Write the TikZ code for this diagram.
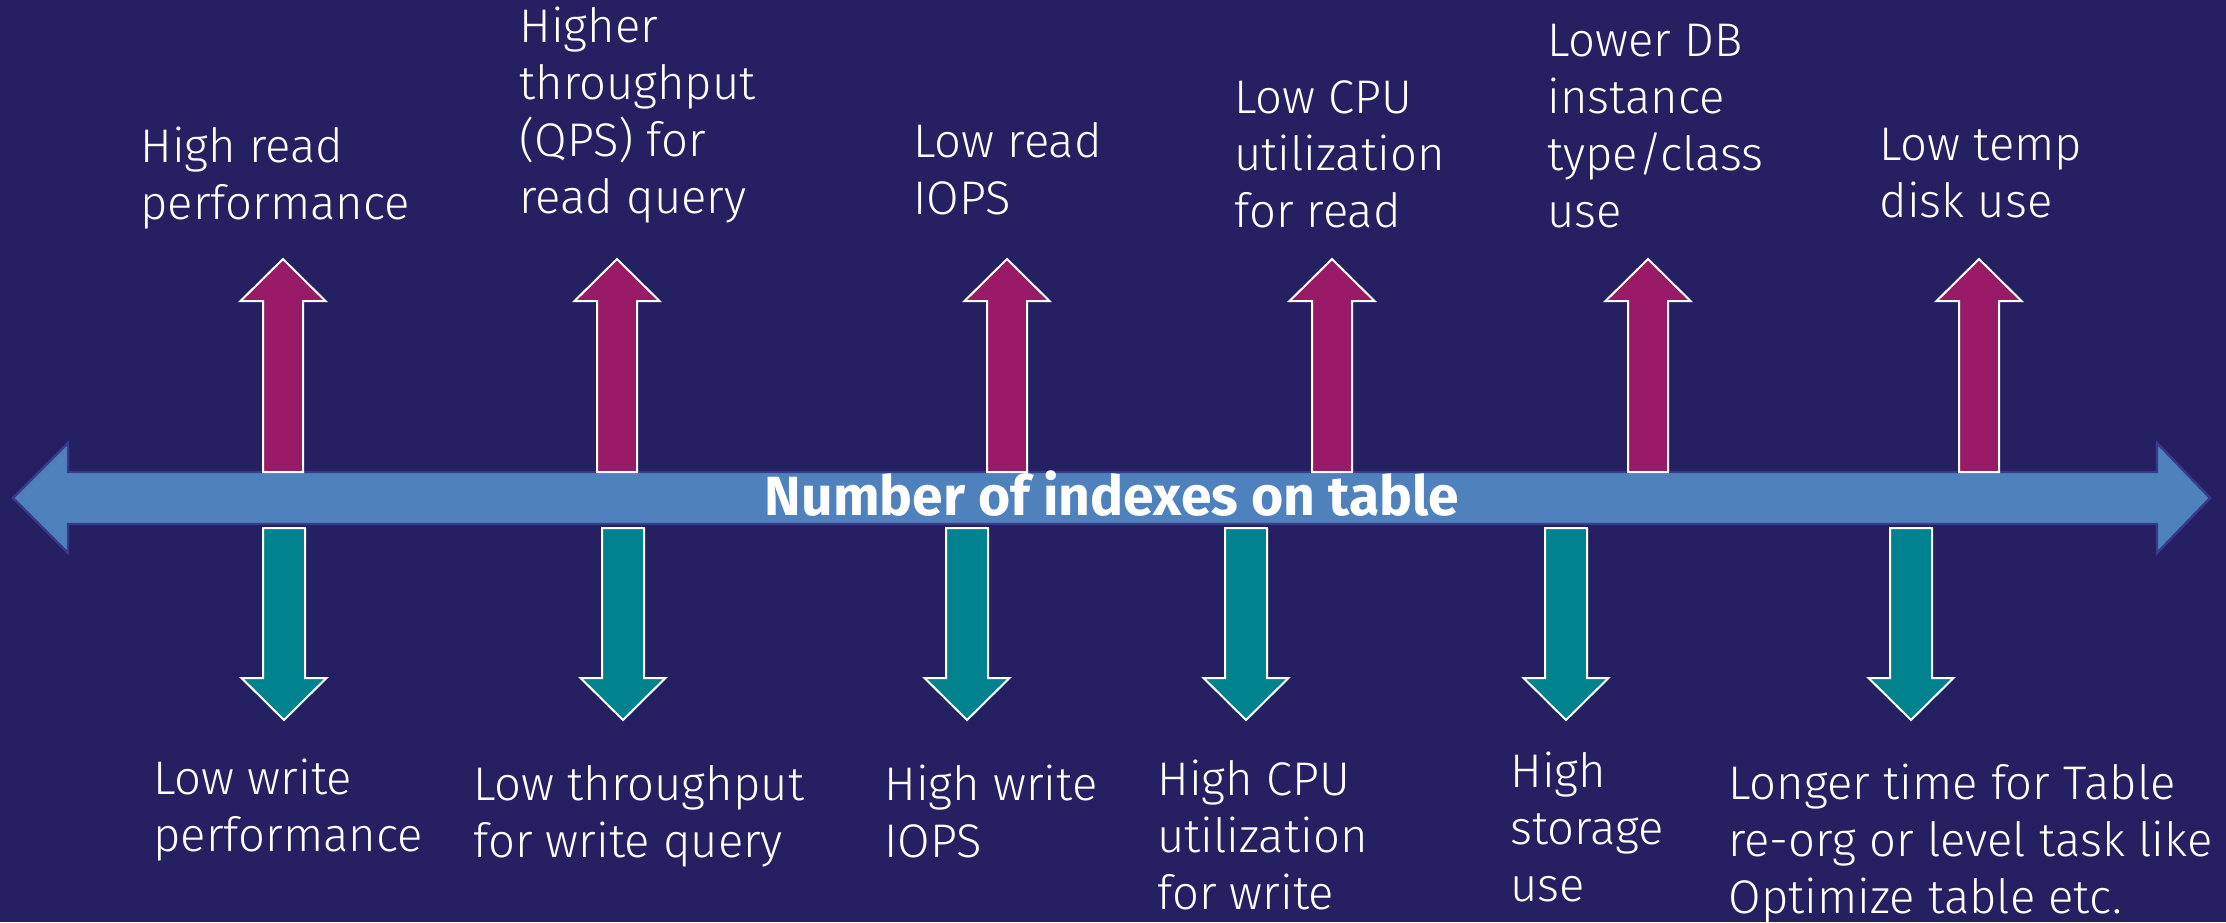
\documentclass[tikz,border=0pt]{standalone}
\usepackage{fontspec}
\IfFontExistsTF{Fira Sans Light}{\newfontfamily\lblfont{Fira Sans Light}}{\newfontfamily\lblfont{Fira Sans}}
\newfontfamily\ttlfont{Fira Sans}
\definecolor{bgc}{RGB}{37,32,97}
\definecolor{magc}{RGB}{153,27,103}
\definecolor{tealc}{RGB}{0,131,143}
\definecolor{bluec}{RGB}{79,129,189}
\definecolor{blueedge}{RGB}{58,58,140}
\tikzset{
  axisarrow/.style={fill=bluec, draw=blueedge, line width=1.2pt, line join=miter},
  uparr/.style={fill=magc, draw=white, line width=1pt, line join=miter},
  dnarr/.style={fill=tealc, draw=white, line width=1pt, line join=miter},
  lbl/.style={text=white, font=\lblfont\fontsize{23.6}{28.5}\selectfont, align=left, inner sep=0pt, anchor=base west},
  ttl/.style={text=white, font=\ttlfont\bfseries\fontsize{27.6}{32}\selectfont, inner sep=0pt, anchor=base},
  uparrow/.pic={\path[uparr] (-20,472) -- (-20,301) -- (-42.5,301) -- (0,259) -- (42.5,301) -- (20,301) -- (20,472) -- cycle;},
  dnarrow/.pic={\path[dnarr] (-21,528) -- (-21,678) -- (-42.5,678) -- (0,720) -- (42.5,678) -- (21,678) -- (21,528) -- cycle;}
}
\begin{document}
\begin{tikzpicture}[x=0.5pt,y=-0.5pt]
\fill[bgc] (0,0) rectangle (2226,922);
\useasboundingbox (0,0) rectangle (2226,922);
% main double arrow
\path[axisarrow] (13,498) -- (68,443) -- (68,472) -- (2157,472) -- (2157,443) -- (2210,498) -- (2157,553) -- (2157,524) -- (68,524) -- (68,553) -- cycle;
\node[ttl] (axis) at (1112,515) {Number of indexes on table};
% up arrows
\pic at (283,0) {uparrow};
\pic at (617,0) {uparrow};
\pic at (1007,0) {uparrow};
\pic at (1332,0) {uparrow};
\pic at (1648,0) {uparrow};
\pic at (1979,0) {uparrow};
% down arrows
\pic at (284,0) {dnarrow};
\pic at (623,0) {dnarrow};
\pic at (967,0) {dnarrow};
\pic at (1246,0) {dnarrow};
\pic at (1566,0) {dnarrow};
\pic at (1911,0) {dnarrow};
% top labels (anchored at the baseline of the last line)
\node[lbl] (u1) at (140,219) {High read\\performance};
\node[lbl] (u2) at (519,213) {Higher\\throughput\\(QPS) for\\read query};
\node[lbl] (u3) at (913,214) {Low read\\IOPS};
\node[lbl] (u4) at (1234,227) {Low CPU\\utilization\\for read};
\node[lbl] (u5) at (1547,227) {Lower DB\\instance\\type/class\\use};
\node[lbl] (u6) at (1879,217) {Low temp\\disk use};
% bottom labels
\node[lbl] (d1) at (153,851) {Low write\\performance};
\node[lbl] (d2) at (473,857) {Low throughput\\for write query};
\node[lbl] (d3) at (884,857) {High write\\IOPS};
\node[lbl] (d4) at (1157,909) {High CPU\\utilization\\for write};
\node[lbl] (d5) at (1510,901) {High\\storage\\use};
\node[lbl] (d6) at (1728,913) {Longer time for Table\\re-org or level task like\\Optimize table etc.};
\end{tikzpicture}
\end{document}
